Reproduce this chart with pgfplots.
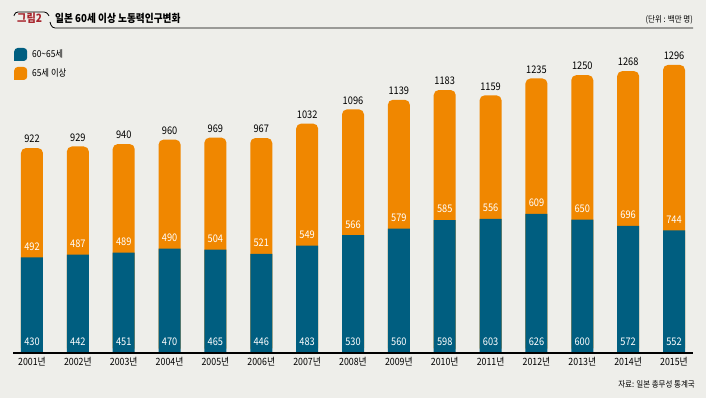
\documentclass[border=0pt]{standalone}
\usepackage{pgfplots}
\pgfplotsset{compat=1.18}
\usepackage{pgfplotstable}
\usepackage{fontspec}
\setmainfont{Noto Sans CJK KR}
\newfontfamily\cond[FakeStretch=0.88]{Noto Sans CJK KR}
\definecolor{bg}{HTML}{EEEEEA}
\definecolor{cblue}{HTML}{005E80}
\definecolor{corange}{HTML}{F08700}
\definecolor{cred}{HTML}{A8262E}
\pgfplotstableread{
year blue orange total
2001 430 492 922
2002 442 487 929
2003 451 489 940
2004 470 490 960
2005 465 504 969
2006 446 521 967
2007 483 549 1032
2008 530 566 1096
2009 560 579 1139
2010 598 585 1183
2011 603 556 1159
2012 626 609 1235
2013 600 650 1250
2014 572 696 1268
2015 552 744 1296
}\data
\begin{document}
\begin{tikzpicture}
\fill[bg] (0pt,0pt) rectangle (706pt,398pt);
\useasboundingbox (0pt,0pt) rectangle (706pt,398pt);
% title
\draw[line width=0.8pt, rounded corners=3pt] (14pt,382pt) -- (15pt,386pt) -- (47pt,386pt) -- (49pt,382pt);
\draw[line width=0.8pt, rounded corners=3pt] (50pt,376pt) -- (52pt,370pt) -- (693pt,370pt);
\node[anchor=west, text=cred, inner sep=0pt, font=\cond\fontsize{11.5}{13}\selectfont\bfseries] at (17pt,380pt) {그림2};
\node[anchor=west, inner sep=0pt, font=\cond\fontsize{11}{13}\selectfont\bfseries] at (55pt,380pt) {일본 60세 이상 노동력인구변화};
\node[anchor=east, inner sep=0pt, font=\cond\fontsize{8.5}{10}\selectfont] at (693pt,378pt) {(단위 : 백만 명)};
\node[anchor=east, inner sep=0pt, font=\cond\fontsize{8.5}{10}\selectfont] at (695pt,14pt) {자료: 일본 총무성 통계국};
\begin{axis}[
  at={(13pt,45pt)}, anchor=south west, scale only axis,
  width=680pt, height=311.2pt,
  xmin=2000.586, xmax=2015.414, ymin=0, ymax=1400,
  hide y axis, axis x line*=bottom,
  axis line style={-, line width=1.3pt},
  axis on top,
  xtick=data,
  xticklabels={2001년,2002년,2003년,2004년,2005년,2006년,2007년,2008년,2009년,2010년,2011년,2012년,2013년,2014년,2015년},
  major tick length=0pt,
  x tick label style={font=\cond\fontsize{10}{11}\selectfont, yshift=-1pt},
  ybar, bar width=22pt, bar shift=0pt,
  clip=false,
  legend style={at={(rel axis cs:0,1)}, anchor=north west, draw=none, fill=none,
    xshift=1pt, yshift=-6pt, font=\cond\fontsize{9.5}{11}\selectfont,
    row sep=6pt, inner sep=0pt, nodes={inner sep=0pt},
    /tikz/every odd column/.append style={column sep=5pt},
    legend cell align=left},
  reverse legend,
  legend image code/.code={\fill[#1] (0pt,-6.5pt) [rounded corners=3.5pt] -- (0pt,6.5pt) -- (13pt,6.5pt) -- (13pt,-6.5pt) [sharp corners] -- cycle;},
]
\addplot[fill=corange, draw=none, rounded corners=5pt,
  nodes near coords, point meta=explicit symbolic,
  every node near coord/.append style={anchor=south, text=black, yshift=1.5pt, rounded corners=0pt, font=\cond\fontsize{10.5}{12}\selectfont}]
  table[x=year, y=total, meta=total] {\data};
\addlegendentry{65세 이상}
\addplot[fill=cblue, draw=none,
  nodes near coords, point meta=explicit symbolic,
  visualization depends on={rawy \as \rawy},
  every node near coord/.append style={anchor=south, text=white, shift={(axis direction cs:0,-\rawy)}, yshift=3.5pt, font=\cond\fontsize{10.5}{12}\selectfont}]
  table[x=year, y=blue, meta=blue] {\data};
\addlegendentry{60\textasciitilde65세}
\addplot[draw=none, fill=none, forget plot,
  nodes near coords, point meta=explicit symbolic,
  every node near coord/.append style={anchor=south, text=white, yshift=3.5pt, font=\cond\fontsize{10.5}{12}\selectfont}]
  table[x=year, y=blue, meta=orange] {\data};
\end{axis}
\end{tikzpicture}
\end{document}
